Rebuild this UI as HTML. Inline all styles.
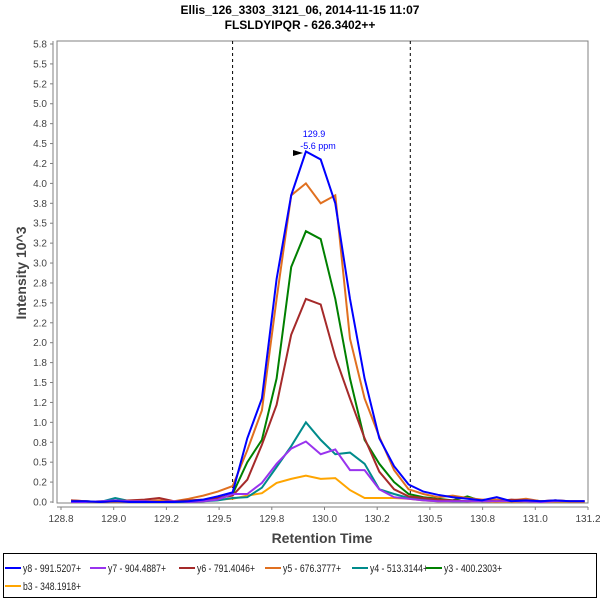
<!DOCTYPE html>
<html><head><meta charset="utf-8"><style>
body{margin:0;background:#fff;}
svg{display:block;font-family:"Liberation Sans",sans-serif;}
</style></head><body>
<svg id="chart" width="600" height="600" xmlns="http://www.w3.org/2000/svg">
<text x="300" y="14" text-anchor="middle" font-size="12" font-weight="bold">Ellis_126_3303_3121_06, 2014-11-15 11:07</text>
<text x="300" y="29" text-anchor="middle" font-size="12" font-weight="bold">FLSLDYIPQR - 626.3402++</text>
<rect x="57" y="41" width="531" height="462" fill="#fff" stroke="#808080"/>
<g id="axes"></g>
<g id="series"></g>
<text transform="translate(26,273) rotate(-90)" text-anchor="middle" font-size="14" font-weight="bold" fill="#444">Intensity 10^3</text>
<text x="322" y="543" text-anchor="middle" font-size="14" font-weight="bold" fill="#444">Retention Time</text>
<text x="314" y="137" text-anchor="middle" font-size="9" fill="#0000ff">129.9</text>
<text x="318" y="149" text-anchor="middle" font-size="9" fill="#0000ff">-5.6 ppm</text>
<polygon points="293,150 303,153 293,156" fill="#000"/>
<rect x="3.5" y="553.5" width="593" height="44" fill="none" stroke="#000"/>
<g id="legend"></g>
</svg>
<script>
const times=[128.798,128.868,128.937,129.007,129.077,129.146,129.216,129.286,129.355,129.425,129.494,129.564,129.634,129.703,129.773,129.842,129.912,129.982,130.051,130.121,130.190,130.260,130.330,130.399,130.469,130.538,130.608,130.678,130.747,130.817,130.886,130.956,131.026,131.095,131.165,131.234];
const y8=[0.01,0.01,0,0.01,0,0,0,0,0.01,0.03,0.07, 0.12,0.8,1.3,2.8,3.85,4.4,4.3,3.75,2.55,1.55,0.8,0.45,0.22, 0.13,0.09,0.06,0.04,0.02,0.06,0.01,0.02,0.01,0.02,0.01,0.01];
const y7=[0,0,0.01,0.02,0.01,0.01,0,0.01,0,0.01,0.03, 0.1,0.1,0.24,0.48,0.67,0.76,0.6,0.66,0.4,0.4,0.16,0.06,0.04, 0.02,0.01,0.01,0.01,0.01,0.01,0.01,0.01,0,0.01,0.01,0.01];
const y6=[0.02,0.01,0,0.01,0.02,0.03,0.05,0.01,0.02,0.03,0.05, 0.08,0.28,0.72,1.22,2.1,2.55,2.48,1.82,1.3,0.8,0.38,0.16,0.07, 0.05,0.03,0.02,0.01,0.02,0.01,0.03,0.02,0.01,0.02,0.01,0.01];
const y5=[0.02,0.01,0,0.01,0,0.01,0.02,0.01,0.04,0.08,0.13, 0.2,0.65,1.15,2.55,3.85,4.0,3.75,3.85,2.05,1.3,0.82,0.4,0.16, 0.1,0.06,0.08,0.05,0.03,0.03,0.02,0.04,0.01,0.02,0.01,0.01];
const y4=[0,0.01,0,0.05,0.01,0,0.01,0,0,0.01,0.02, 0.05,0.06,0.18,0.44,0.7,1.0,0.78,0.6,0.62,0.48,0.16,0.1,0.05, 0.03,0.02,0.01,0.01,0.02,0.01,0.01,0.03,0.01,0.01,0.01,0.01];
const y3=[0,0,0.01,0.02,0,0.01,0,0,0.01,0.02,0.04, 0.1,0.5,0.78,1.55,2.95,3.4,3.3,2.55,1.55,0.78,0.48,0.25,0.1, 0.06,0.04,0.02,0.07,0.01,0.02,0.01,0.03,0.01,0.01,0.01,0.01];
const b3=[0,0,0,0,0,0,0,0,0.01,0.02,0.03, 0.04,0.08,0.11,0.24,0.29,0.33,0.29,0.3,0.15,0.05,0.05,0.05,0.04, 0.02,0.01,0.01,0.01,0.01,0,0,0.01,0,0,0,0];
const seriesNames=["b3 - 348.1918+","y3 - 400.2303+","y4 - 513.3144+","y5 - 676.3777+","y6 - 791.4046+","y7 - 904.4887+","y8 - 991.5207+"];
const yTickValues=[0,0.25,0.5,0.75,1,1.25,1.5,1.75,2,2.25,2.5,2.75,3,3.25,3.5,3.75,4,4.25,4.5,4.75,5,5.25,5.5,5.75];
const yTickLabels=["0.0","0.2","0.5","0.8","1.0","1.2","1.5","1.8","2.0","2.2","2.5","2.8","3.0","3.2","3.5","3.8","4.0","4.2","4.5","4.8","5.0","5.2","5.5","5.8"];
const xTickValues=[128.75,129.0,129.25,129.5,129.75,130.0,130.25,130.5,130.75,131.0,131.25];
const xTickLabels=["128.8","129.0","129.2","129.5","129.8","130.0","130.2","130.5","130.8","131.0","131.2"];
const boundaries=[129.564,130.407];

const NS="http://www.w3.org/2000/svg";
const X=t=>61+(t-128.75)*(588-61)/2.5;
const Y=v=>502-v*(502-44)/5.75;
function mk(tag,attrs,parent){const e=document.createElementNS(NS,tag);for(const k in attrs)e.setAttribute(k,attrs[k]);parent.appendChild(e);return e;}
const axes=document.getElementById('axes');
let e;
e=mk('line',{x1:53,y1:41,x2:53,y2:503,stroke:'#808080'},axes);


e=mk('line',{x1:57,y1:507,x2:588,y2:507,stroke:'#808080'},axes);


yTickValues.forEach((v,i)=>{
 mk('line',{x1:50,x2:53,y1:Y(v),y2:Y(v),stroke:'#808080'},axes);
 const t=mk('text',{x:47,y:Y(v)+3.5,'text-anchor':'end','font-size':10,fill:'#444'},axes);
 t.textContent=yTickLabels[i];
 
 
});
xTickValues.forEach((v,i)=>{
 mk('line',{x1:X(v),x2:X(v),y1:507,y2:510,stroke:'#808080'},axes);
 const t=mk('text',{x:X(v),y:522,'text-anchor':'middle','font-size':10,fill:'#444'},axes);
 t.textContent=xTickLabels[i];
 
 
});
boundaries.forEach(b=>{
 const l=mk('line',{x1:X(b),x2:X(b),y1:41,y2:503,stroke:'#000','stroke-dasharray':'3,3','stroke-width':1},axes);
 
 
});
const sdata=[b3,y3,y4,y5,y6,y7,y8];
const colors=["#ffa500","#008000","#008b8b","#e07020","#a52a2a","#9933ee","#0000ff"];
const sg=document.getElementById('series');
sdata.forEach((arr,si)=>{
 const pts=arr.map((v,i)=>X(times[i]).toFixed(1)+','+Y(v).toFixed(1)).join(' ');
 const p=mk('polyline',{points:pts,fill:'none',stroke:colors[si],'stroke-width':2,'stroke-linejoin':'miter'},sg);
 
 
});
const lg=document.getElementById('legend');
const order=[6,5,4,3,2,1,0];
const lx=[5,90,179,265,352,426,5];
const ly=[568,568,568,568,568,568,586];
order.forEach((si,j)=>{
 const g=mk('g',{},lg);
 
 
 mk('line',{x1:lx[j],x2:lx[j]+16,y1:ly[j],y2:ly[j],stroke:colors[si],'stroke-width':2},g);
 const t=mk('text',{x:lx[j]+18,y:ly[j]+4,'font-size':11,fill:'#222',textLength:58,lengthAdjust:'spacingAndGlyphs'},g);
 t.textContent=seriesNames[si];
});
</script>
</body></html>
